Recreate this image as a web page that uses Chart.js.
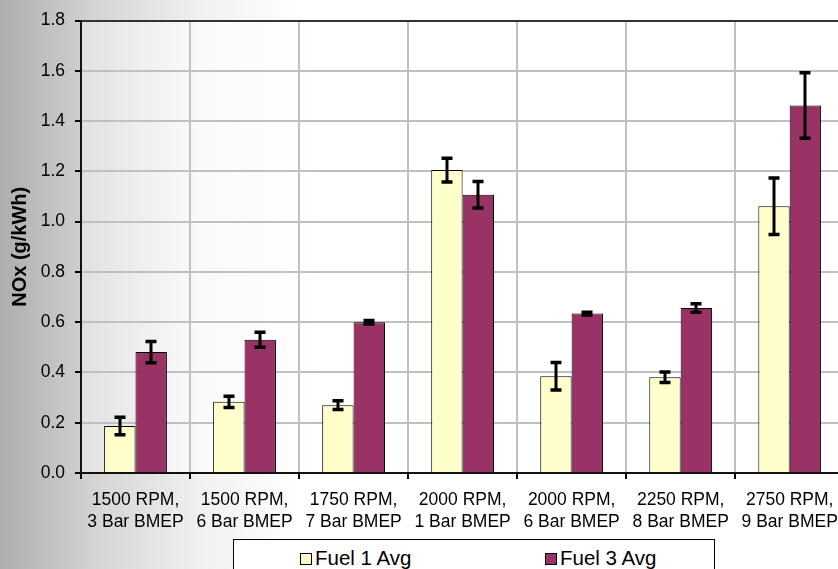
<!DOCTYPE html>
<html>
<head>
<meta charset="utf-8">
<script src="https://cdn.jsdelivr.net/npm/chart.js@4/dist/chart.umd.min.js"></script>
<style>
  html, body { margin: 0; padding: 0; width: 838px; height: 569px; overflow: hidden; }
  body { background: linear-gradient(to right, #adadad 0px, #d6d6d6 100px, #f0f0f0 200px, #ffffff 300px); position: relative; font-family: "Liberation Sans", Arial, sans-serif; }
  #c { position: absolute; left: 0; top: 0; }
  #legend { position: absolute; left: 233px; top: 539px; width: 482px; height: 40px; border: 1px solid #000; background: #fff; box-sizing: border-box; }
  .item { position: absolute; top: 6px; font-size: 20.5px; line-height: 24px; color: #000; white-space: nowrap; }
  .sw { display: inline-block; width: 10px; height: 10px; border: 1px solid #000; margin-right: 3px; vertical-align: 0px; }
</style>
</head>
<body>
<canvas id="c" width="848" height="569" style="width:848px;height:569px"></canvas>
<div id="legend"></div>
<script>
const categories = [
  ['1500 RPM,', '3 Bar BMEP'],
  ['1500 RPM,', '6 Bar BMEP'],
  ['1750 RPM,', '7 Bar BMEP'],
  ['2000 RPM,', '1 Bar BMEP'],
  ['2000 RPM,', '6 Bar BMEP'],
  ['2250 RPM,', '8 Bar BMEP'],
  ['2750 RPM,', '9 Bar BMEP']
];
const seriesNames = ['Fuel 1 Avg', 'Fuel 3 Avg'];
const fuel1Avg = [0.187, 0.283, 0.270, 1.205, 0.385, 0.381, 1.061];
const fuel1Err = [0.035, 0.022, 0.017, 0.047, 0.055, 0.021, 0.112];
const fuel3Avg = [0.481, 0.530, 0.600, 1.107, 0.634, 0.656, 1.462];
const fuel3Err = [0.042, 0.030, 0.007, 0.053, 0.005, 0.017, 0.130];
const yTicks = [0.0, 0.2, 0.4, 0.6, 0.8, 1.0, 1.2, 1.4, 1.6, 1.8];
const colors = ['#FFFFCC', '#993366'];

const plotBg = {
  id: 'plotBg',
  beforeDraw(chart) {
    const a = chart.chartArea, ctx = chart.ctx;
    const g = ctx.createLinearGradient(a.left, 0, a.left + 240, 0);
    g.addColorStop(0, '#e0e0e0');
    g.addColorStop(0.25, '#efefef');
    g.addColorStop(0.5, '#fafafa');
    g.addColorStop(1, '#ffffff');
    ctx.save();
    ctx.fillStyle = g;
    ctx.fillRect(a.left, a.top, a.right - a.left, a.bottom - a.top);
    ctx.restore();
  }
};

const errorBars = {
  id: 'errorBars',
  afterDatasetsDraw(chart) {
    const ctx = chart.ctx, ys = chart.scales.y;
    ctx.save();
    ctx.strokeStyle = '#000';
    chart.data.datasets.forEach((ds, di) => {
      const meta = chart.getDatasetMeta(di);
      meta.data.forEach((el, i) => {
        const v = ds.data[i], e = ds.errors[i];
        const hi = ys.getPixelForValue(v + e), lo = ys.getPixelForValue(v - e);
        const x = Math.round(el.x);
        ctx.lineWidth = 3;
        ctx.beginPath();
        ctx.moveTo(x, hi); ctx.lineTo(x, lo);
        ctx.stroke();
        ctx.lineWidth = 3.5;
        ctx.beginPath();
        ctx.moveTo(x - 5.5, hi); ctx.lineTo(x + 5.5, hi);
        ctx.moveTo(x - 5.5, lo); ctx.lineTo(x + 5.5, lo);
        ctx.stroke();
      });
    });
    ctx.restore();
  }
};

const chart = new Chart(document.getElementById('c'), {
  type: 'bar',
  data: {
    labels: categories,
    datasets: [
      { label: seriesNames[0], data: fuel1Avg, errors: fuel1Err, backgroundColor: colors[0], borderColor: '#000', borderWidth: 1 },
      { label: seriesNames[1], data: fuel3Avg, errors: fuel3Err, backgroundColor: colors[1], borderColor: '#000', borderWidth: 1 }
    ]
  },
  options: {
    responsive: false,
    animation: false,
    devicePixelRatio: 1,
    datasets: { bar: { categoryPercentage: 0.576, barPercentage: 1.0 } },
    layout: { padding: { top: 16, right: 2, bottom: 0, left: 0 } },
    plugins: { legend: { display: false }, tooltip: { enabled: false } },
    scales: {
      x: {
        offset: true,
        grid: { offset: true, color: '#c0c0c0', lineWidth: 2, tickColor: '#000', tickLength: 6, drawTicks: true },
        border: { color: '#111', width: 2 },
        ticks: { color: '#000', font: { family: 'Liberation Sans', size: 17.5, lineHeight: 1.25 }, padding: 10, autoSkip: false, maxRotation: 0, minRotation: 0 },
        afterFit(s) { s.height = 96; }
      },
      y: {
        min: 0, max: 1.8,
        afterBuildTicks(s) { s.ticks = yTicks.map(v => ({ value: v })); },
        grid: {
          color: c => (Math.abs(c.tick.value - 1.8) < 1e-6 ? '#333' : '#c0c0c0'),
          lineWidth: 2, tickColor: '#000', tickLength: 6
        },
        border: { color: '#111', width: 2 },
        ticks: { color: '#000', font: { family: 'Liberation Sans', size: 17.5 }, padding: 10, callback: v => Number(v).toFixed(1) },
        title: { display: true, text: 'NOx (g/kWh)', color: '#000', font: { family: 'Liberation Sans', size: 20, weight: 'bold' }, padding: { top: 8, bottom: 0 } },
        afterFit(s) { s.width = 81; }
      }
    }
  },
  plugins: [plotBg, errorBars]
});

const leg = document.getElementById('legend');
const itemLeft = [66, 311];
seriesNames.forEach((n, i) => {
  const d = document.createElement('div');
  d.className = 'item';
  d.style.left = itemLeft[i] + 'px';
  const sw = document.createElement('span');
  sw.className = 'sw';
  sw.style.background = colors[i];
  d.appendChild(sw);
  d.appendChild(document.createTextNode(n));
  leg.appendChild(d);
});
</script>
</body>
</html>
